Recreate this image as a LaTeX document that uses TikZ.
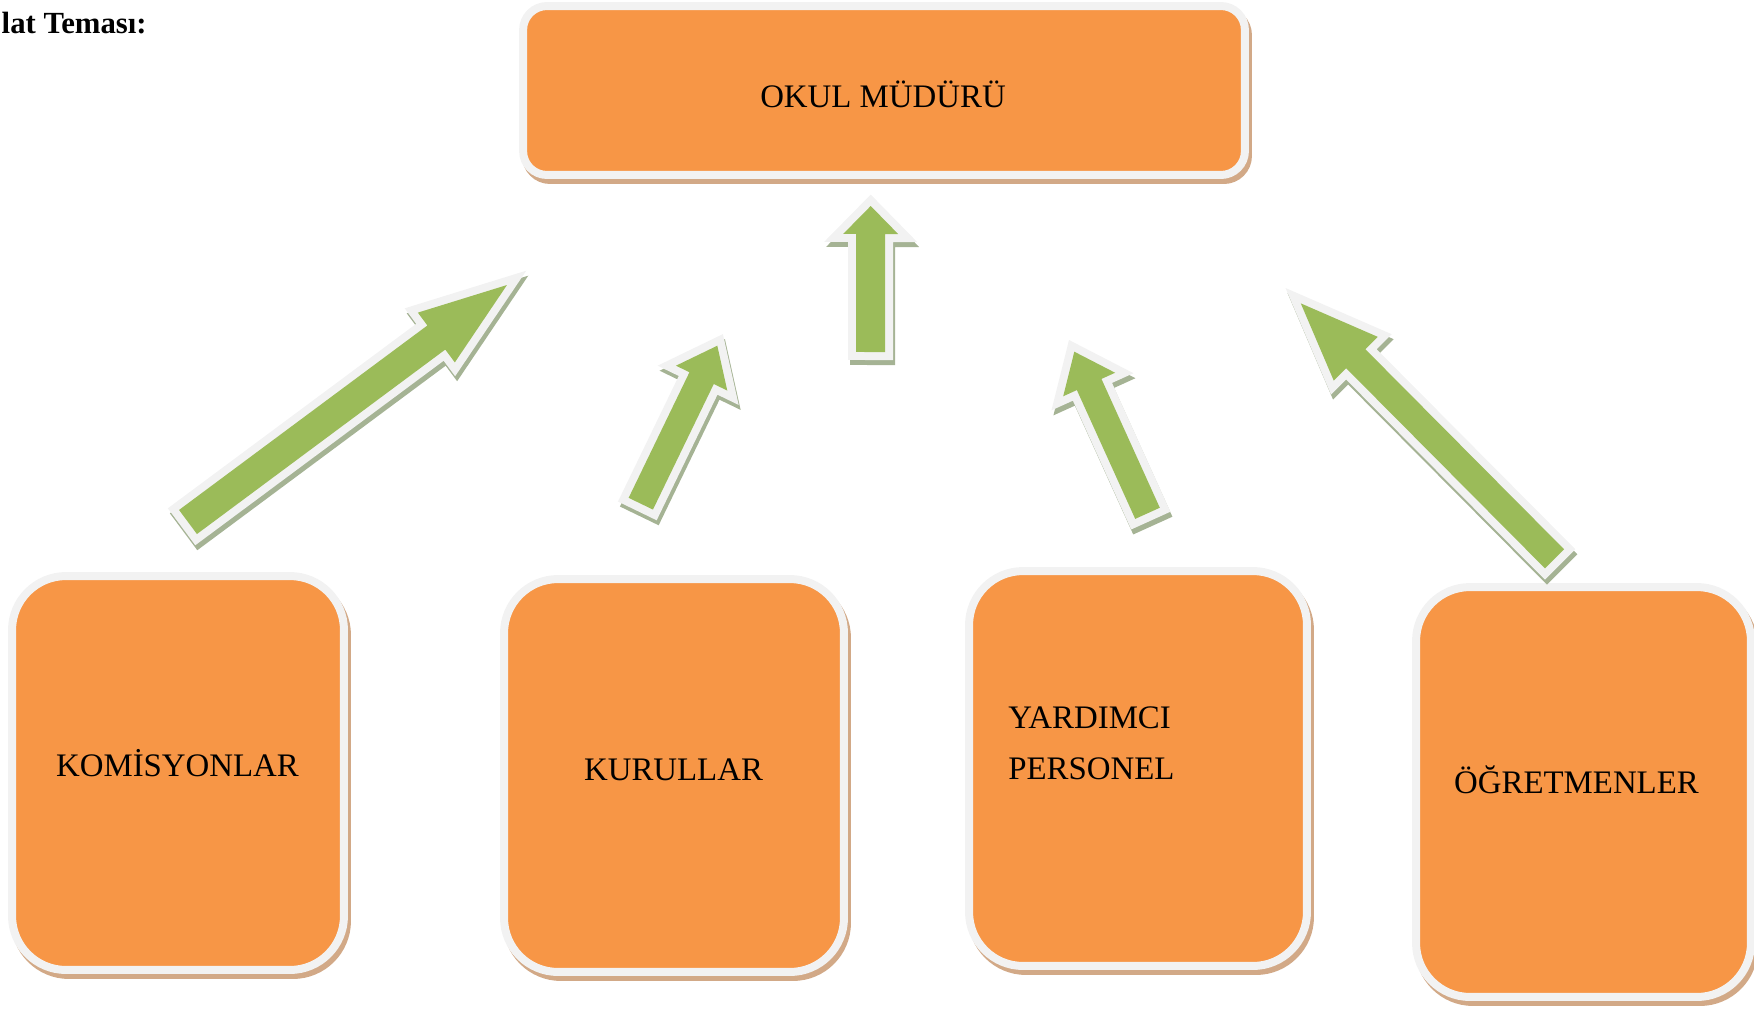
\documentclass[tikz,border=0pt]{standalone}
\usepackage{fontspec}
\setmainfont{Liberation Serif}
\definecolor{boxorange}{HTML}{F79646}
\definecolor{borderwhite}{HTML}{F2F2F2}
\definecolor{boxshadow}{HTML}{D2A987}
\definecolor{arrgreen}{HTML}{9BBB59}
\definecolor{arrshadow}{HTML}{A5B394}
\newcommand\blockarrow[8]{%
  \pgfmathsetmacro\baA{atan2((#3)-(#5),(#4)-(#2))}%
  \pgfmathsetmacro\baL{veclen((#4)-(#2),(#5)-(#3))}%
  \pgfmathsetmacro\baS{\baL-(#8)}%
  \pgfmathsetmacro\baW{(#6)/2}%
  \pgfmathsetmacro\baH{(#7)/2}%
  \coordinate (#1tail) at (#2,#3);
  \coordinate (#1tip) at (#4,#5);
  \begin{scope}[shift={({#2+2},{#3+5})},rotate=\baA]
    \path[draw=arrshadow,fill=arrshadow,line width=0.32cm,line join=miter]
      (0,-\baW) -- (\baS,-\baW) -- (\baS,-\baH) -- (\baL,0) -- (\baS,\baH) -- (\baS,\baW) -- (0,\baW) -- cycle;
  \end{scope}
  \begin{scope}[shift={(#1tail)},rotate=\baA]
    \path[draw=borderwhite,fill=borderwhite,line width=0.32cm,line join=miter]
      (0,-\baW) -- (\baS,-\baW) -- (\baS,-\baH) -- (\baL,0) -- (\baS,\baH) -- (\baS,\baW) -- (0,\baW) -- cycle;
    \path[fill=arrgreen]
      (0,-\baW) -- (\baS,-\baW) -- (\baS,-\baH) -- (\baL,0) -- (\baS,\baH) -- (\baS,\baW) -- (0,\baW) -- cycle;
  \end{scope}
}
\begin{document}
\begin{tikzpicture}[x=0.02cm,y=-0.02cm,
  boxbase/.style={rectangle, inner sep=0pt, line width=0.16cm, draw=borderwhite, fill=boxorange,
    preaction={draw=boxshadow, fill=boxshadow, line width=0.16cm, transform canvas={xshift=0.06cm,yshift=-0.1cm}}},
  bigbox/.style={boxbase, rounded corners=1.08cm},
  topbox/.style={boxbase, rounded corners=0.48cm},
  lbl/.style={inner sep=0pt, text=black, font=\fontsize{18.7}{22}\selectfont},
  titlelbl/.style={inner sep=0pt, text=black, font=\fontsize{17.5}{21}\selectfont\bfseries}]
\path[use as bounding box] (0,0) rectangle (1754,1008);

\node[titlelbl, anchor=base east] (title) at (147,33) {lat Teması:};

% boxes
\node[topbox, minimum width=14.44cm, minimum height=3.38cm] (top) at (884,90.5) {};
\node[bigbox, minimum width=6.64cm, minimum height=7.88cm] (kom) at (178,773) {};
\node[bigbox, minimum width=6.8cm, minimum height=7.86cm] (kur) at (674,775.5) {};
\node[bigbox, minimum width=6.76cm, minimum height=7.9cm] (yard) at (1138,768.5) {};
\node[bigbox, minimum width=6.7cm, minimum height=8.2cm] (ogr) at (1583.5,792) {};

% labels
\node[lbl, anchor=base] (topT) at (883,107.5) {OKUL MÜDÜRÜ};
\node[lbl, anchor=base] (komT) at (177.5,776) {KOMİSYONLAR};
\node[lbl, anchor=base] (kurT) at (673.5,780) {KURULLAR};
\node[lbl, anchor=base west] (yardT1) at (1008,728) {YARDIMCI};
\node[lbl, anchor=base west] (yardT2) at (1008,779) {PERSONEL};
\node[lbl, anchor=base] (ogrT) at (1576.5,793) {ÖĞRETMENLER};

% block arrows
\blockarrow{aone}{188}{522}{507}{285}{30}{62}{88}
\blockarrow{atwo}{640.8}{503.7}{717.3}{345.7}{27}{57}{36}
\blockarrow{athree}{870.5}{352}{870.7}{206}{29}{55}{28}
\blockarrow{afour}{1147.5}{513.3}{1074.3}{351.7}{27}{57}{36}
\blockarrow{afive}{1554.5}{558.8}{1300.7}{303.3}{27}{62}{78}
\end{tikzpicture}
\end{document}
